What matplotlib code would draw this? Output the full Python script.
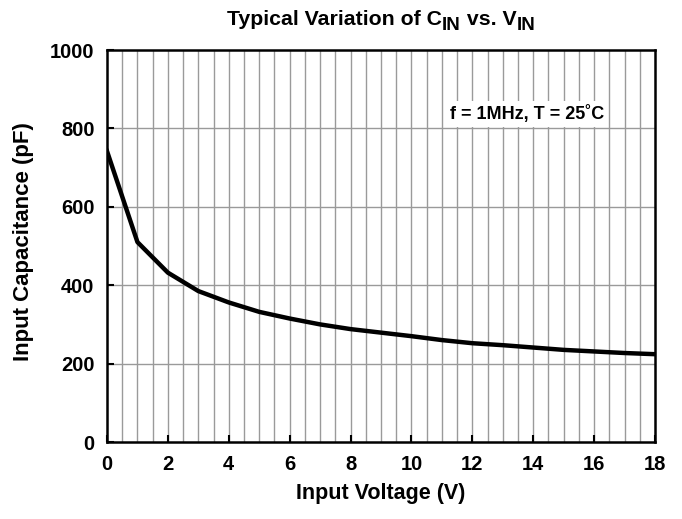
import matplotlib
matplotlib.use("Agg")
import matplotlib.pyplot as plt
import numpy as np

plt.rcParams['font.family'] = ['Liberation Sans', 'DejaVu Sans']

voltage = [0, 1, 2, 3, 4, 5, 6, 7, 8, 9, 10, 11, 12, 13, 14, 15, 16, 17, 18]
capacitance = [742, 510, 432, 385, 356, 332, 315, 300, 288, 279, 270, 260, 252, 247, 241, 235, 231, 227, 224]
x_ticks = [0, 2, 4, 6, 8, 10, 12, 14, 16, 18]
y_ticks = [0, 200, 400, 600, 800, 1000]

W, H = 682, 519
fig = plt.figure(figsize=(W/100, H/100), dpi=100)
ax = fig.add_axes([107/W, 1 - 442/H, (655-107)/W, (442-50)/H])

ax.set_xlim(0, 18)
ax.set_ylim(0, 1000)

for xv in np.arange(0.5, 18, 0.5):
    ax.axvline(xv, color='#9a9a9a', lw=1.0, zorder=1)
for yv in y_ticks[1:-1]:
    ax.axhline(yv, color='#9a9a9a', lw=1.0, zorder=1)

ax.plot(voltage, capacitance, color='black', lw=3.2, zorder=3)

ax.set_xticks(x_ticks)
ax.set_yticks(y_ticks)
ax.tick_params(direction='in', length=5, width=1.5, labelsize=14.5)
ax.tick_params(axis='x', pad=9)
ax.tick_params(axis='y', pad=9)
for lab in ax.get_xticklabels() + ax.get_yticklabels():
    lab.set_fontweight('bold')
for s in ax.spines.values():
    s.set_linewidth(1.8)

fig.text(381/W, 1 - 494/H, 'Input Voltage (V)', ha='center', va='center', fontsize=15.5, fontweight='bold')
fig.text(24/W, 1 - 242/H, 'Input Capacitance (pF)', ha='center', va='center', rotation=90,
         fontsize=16, fontweight='bold')

# Title with manual subscripts
fig.canvas.draw()
renderer = fig.canvas.get_renderer()
pieces = [('Typical Variation of C', 15.3, 0), ('IN', 13.5, -5), (' vs. V', 15.3, 0), ('IN', 13.5, -5)]
texts = []
x = 0
for s, fs, dy in pieces:
    t = fig.text(0, 0, s, fontsize=fs, fontweight='bold', ha='left', va='baseline')
    bb = t.get_window_extent(renderer)
    texts.append((t, x, dy))
    x += bb.width
total = x
x0 = 381 - total / 2
base = H - 25
for t, xo, dy in texts:
    t.set_position(((x0 + xo) / W, (base + dy) / H))

ax.text(16.32, 836, 'f = 1MHz, T = 25˚C', ha='right', va='center', fontsize=13, fontweight='bold',
        bbox=dict(facecolor='white', edgecolor='none', pad=3), zorder=4)

fig.savefig('out.png', dpi=100)
